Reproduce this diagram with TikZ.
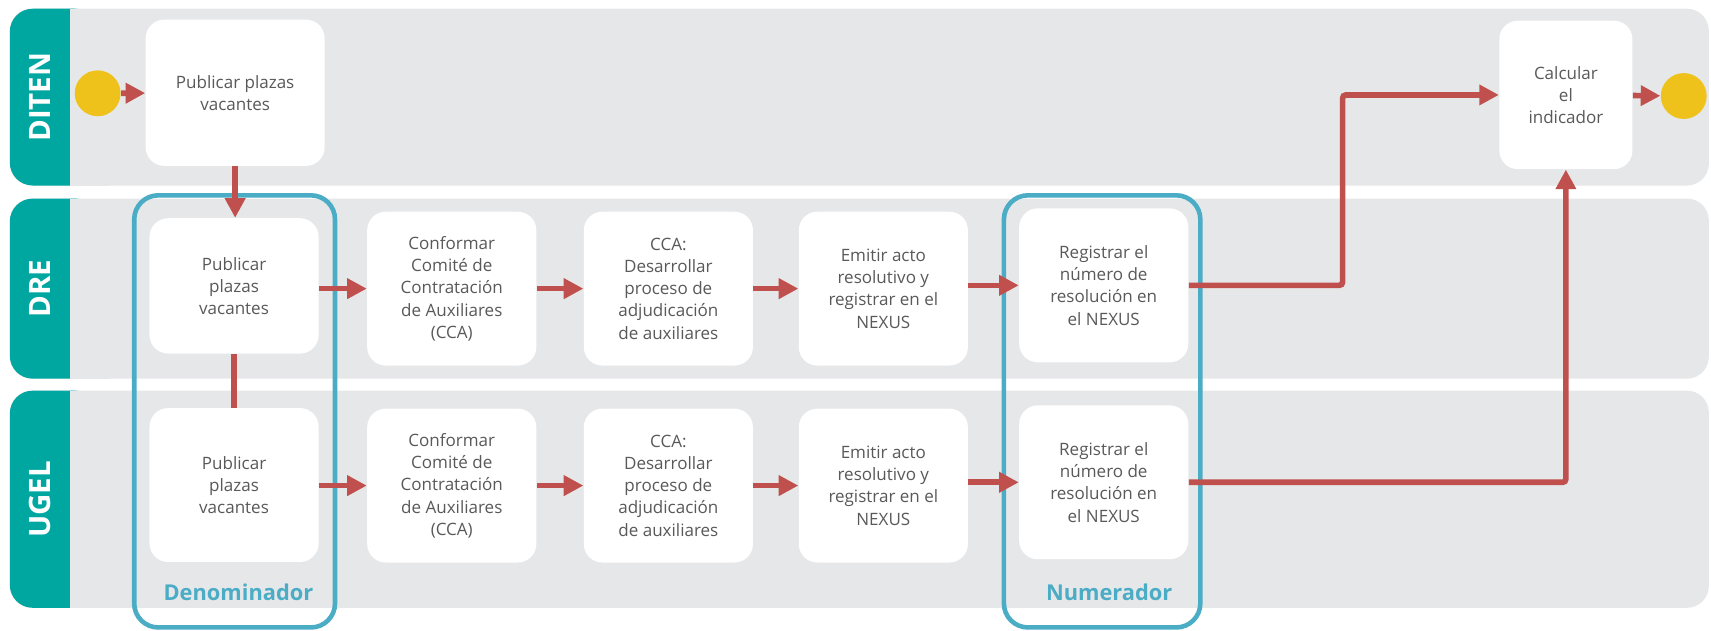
\documentclass[tikz,border=0pt]{standalone}
\usepackage{fontspec}
\setmainfont{Open Sans}
\usetikzlibrary{arrows.meta}

\definecolor{laneteal}{HTML}{00A7A1}
\definecolor{lanegray}{HTML}{E6E7E9}
\definecolor{flowred}{HTML}{C0504D}
\definecolor{frameblue}{HTML}{4BACC6}
\definecolor{dotyellow}{HTML}{EEC21B}
\definecolor{boxtext}{HTML}{595959}

\begin{document}
\begin{tikzpicture}[x=0.5pt,y=-0.5pt]

  \useasboundingbox (0,0) rectangle (1568,578);

  % node styles
  \tikzstyle{Task}=[
  shape=rectangle,rounded corners=8.5pt,
  fill=white,
  minimum width=77.5pt,minimum height=70.5pt,
  inner sep=0pt,
  align=center,
  text=boxtext,
  font=\fontsize{7.8}{10.2}\selectfont]

  \tikzstyle{Dot}=[circle,fill=dotyellow,minimum size=21pt,inner sep=0pt]
  \tikzstyle{LaneLabel}=[rotate=90,text=white,font=\fontsize{13.5}{13.5}\selectfont\bfseries]
  \tikzstyle{Group}=[draw=frameblue,line width=2.1pt,rounded corners=11pt,inner sep=0pt]
  \tikzstyle{GroupLabel}=[text=frameblue,font=\fontsize{10}{10}\selectfont\bfseries]
  \tikzstyle{Flow}=[draw=flowred,line width=2.6pt,-{Triangle[length=9pt,width=9pt]}]

  % lanes
  \foreach \top/\bot/\name in {8/170/DITEN,182/347/DRE,358/557/UGEL}{
    \fill[lanegray,rounded corners=10pt] (9,\top) rectangle (1566,\bot);
    \fill[laneteal,rounded corners=10.5pt] (9,\top) rectangle (90,\bot);
    \fill[lanegray] (64,\top) rectangle (100,\bot);
    \node[LaneLabel] (lane\name) at (36.5,{(\top+\bot)/2}) {\name};
  }

  % DITEN
  \node[Dot] (start) at (89.5,85.5) {};
  \node[Task,minimum width=82pt,minimum height=67pt] (pubT) at (215.5,85) {Publicar plazas\\vacantes};
  \node[Task,minimum width=61pt,minimum height=68pt] (calc) at (1435,87) {Calcular\\el\\indicador};
  \node[Dot] (stop) at (1543,88) {};

  % DRE
  \node[Task,minimum height=62pt] (dre1) at (214.5,262) {Publicar\\plazas\\vacantes};
  \node[Task] (dre2) at (414,264.5) {Conformar\\Comité de\\Contratación\\de Auxiliares\\(CCA)};
  \node[Task] (dre3) at (612.5,264.5) {CCA:\\Desarrollar\\proceso de\\adjudicación\\de auxiliares};
  \node[Task] (dre4) at (809.5,264.5) {Emitir acto\\resolutivo y\\registrar en el\\NEXUS};
  \node[Task] (dre5) at (1011.5,261.5) {Registrar el\\número de\\resolución en\\el NEXUS};

  % UGEL
  \node[Task] (uge1) at (214.5,444.5) {Publicar\\plazas\\vacantes};
  \node[Task] (uge2) at (414,445) {Conformar\\Comité de\\Contratación\\de Auxiliares\\(CCA)};
  \node[Task] (uge3) at (612.5,445) {CCA:\\Desarrollar\\proceso de\\adjudicación\\de auxiliares};
  \node[Task] (uge4) at (809.5,445) {Emitir acto\\resolutivo y\\registrar en el\\NEXUS};
  \node[Task] (uge5) at (1011.5,442) {Registrar el\\número de\\resolución en\\el NEXUS};

  % groups
  \node[Group,minimum width=92pt,minimum height=198pt] (denF) at (215,377) {};
  \node[GroupLabel] (den) at (218.5,543) {Denominador};
  \node[Group,minimum width=90pt,minimum height=198pt] (numF) at (1010,377) {};
  \node[GroupLabel] (num) at (1016.5,543) {Numerador};

  % flows
  \draw[Flow] (start) -- (pubT);
  \draw[Flow] (pubT.south) -- (pubT.south |- dre1.north);
  \draw[flowred,line width=2.6pt] (dre1) -- (uge1);
  \foreach \a/\b in {1/2,2/3,3/4,4/5}{
    \draw[Flow] (dre\a.east |- dre\b) -- (dre\b.west);
    \draw[Flow] (uge\a.east |- uge\b) -- (uge\b.west);
  }
  \draw[Flow,rounded corners=1.5pt] (dre5.east) -- ++(141,0) |- (calc.west);
  \draw[Flow,rounded corners=1.5pt] (uge5.east) -| (calc.south);
  \draw[Flow] (calc) -- (stop);

\end{tikzpicture}
\end{document}
